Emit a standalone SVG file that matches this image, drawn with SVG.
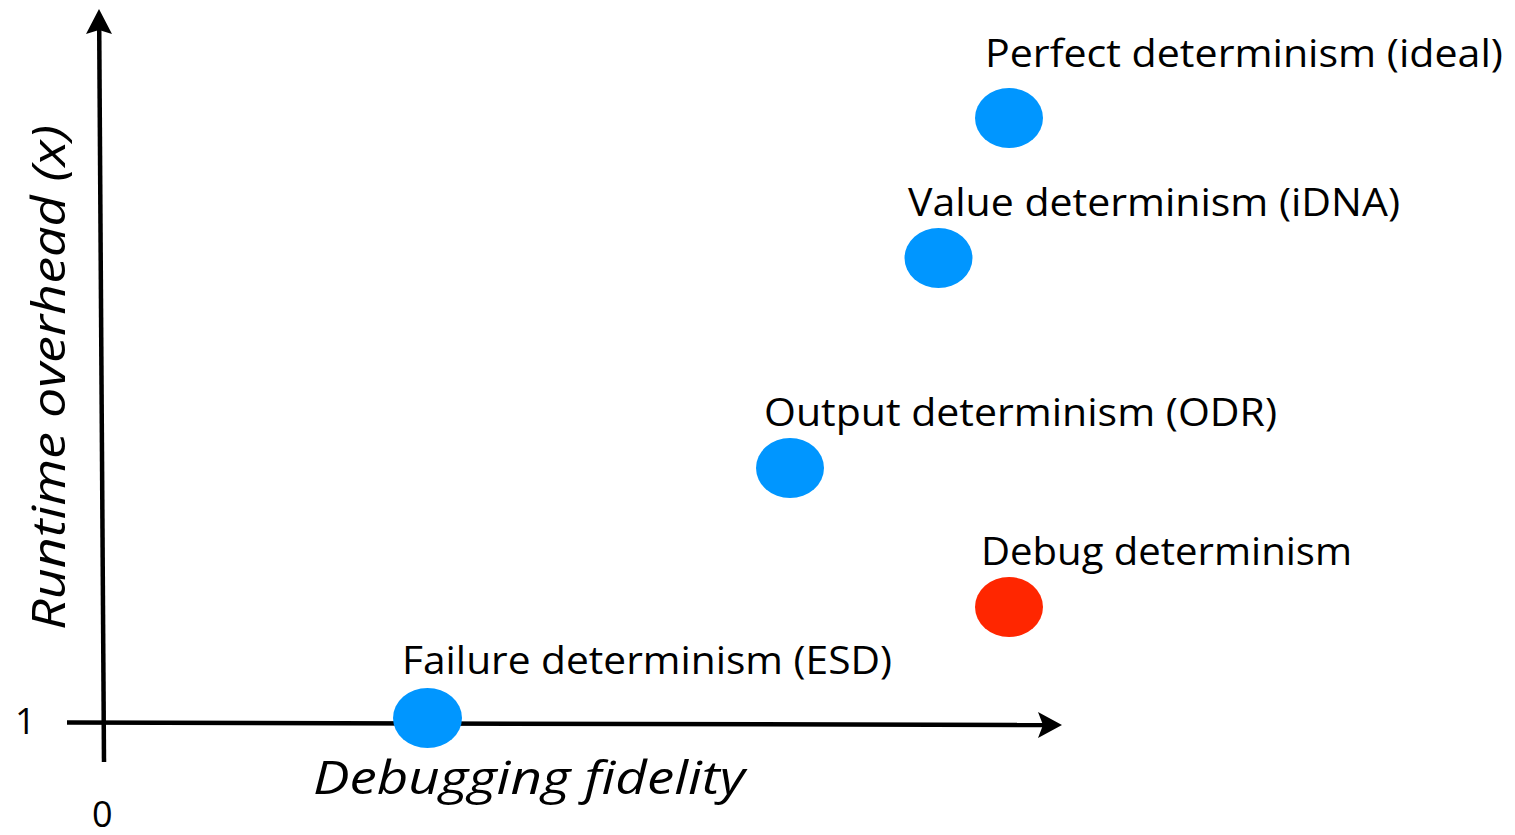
<svg xmlns="http://www.w3.org/2000/svg" width="1515" height="835" viewBox="0 0 1515 835">
<style>
.lbl{font-family:"Open Sans","Liberation Sans",sans-serif;font-size:38px;fill:#000}
.num{font-family:"Open Sans","Liberation Sans",sans-serif;font-size:36px;fill:#000}
.ax{font-family:"Open Sans","Liberation Sans",sans-serif;font-size:46px;font-style:italic;fill:#000}
.blue{fill:#0096FF}
.red{fill:#FF2600}
.axis{stroke:#000;stroke-width:4.5;fill:none}
</style>
<rect width="1515" height="835" fill="#fff"/>
<g id="connectors">
<line class="axis" x1="104" y1="762" x2="99.2" y2="28"/>
<path d="M99,9 L112,34 L99,30 L86,34 Z" fill="#000"/>
<line class="axis" x1="67" y1="722.5" x2="1044" y2="725"/>
<path d="M1062,725 L1038,712 L1043,725 L1038,738 Z" fill="#000"/>
</g>
<g id="axis-labels">
<text class="num" x="15" y="734">1</text>
<text class="num" x="92" y="827">0</text>
<text class="ax" x="313" y="794" textLength="432" lengthAdjust="spacingAndGlyphs">Debugging fidelity</text>
<text class="ax" transform="translate(65,630) rotate(-90)" x="0" y="0" textLength="505" lengthAdjust="spacingAndGlyphs">Runtime overhead (x)</text>
</g>
<g id="perfect">
<ellipse class="blue" cx="1009" cy="118" rx="34" ry="30"/>
<text class="lbl" x="985" y="67" textLength="518" lengthAdjust="spacingAndGlyphs">Perfect determinism (ideal)</text>
</g>
<g id="value">
<ellipse class="blue" cx="938.5" cy="258" rx="34" ry="30"/>
<text class="lbl" x="908" y="216" textLength="492" lengthAdjust="spacingAndGlyphs">Value determinism (iDNA)</text>
</g>
<g id="output">
<ellipse class="blue" cx="790" cy="468" rx="34" ry="30"/>
<text class="lbl" x="764" y="426" textLength="513" lengthAdjust="spacingAndGlyphs">Output determinism (ODR)</text>
</g>
<g id="debug">
<ellipse class="red" cx="1009" cy="607" rx="34" ry="30"/>
<text class="lbl" x="981" y="565" textLength="371" lengthAdjust="spacingAndGlyphs">Debug determinism</text>
</g>
<g id="failure">
<ellipse class="blue" cx="427.5" cy="718" rx="34.5" ry="30"/>
<text class="lbl" x="402" y="674" textLength="490" lengthAdjust="spacingAndGlyphs">Failure determinism (ESD)</text>
</g>
</svg>
